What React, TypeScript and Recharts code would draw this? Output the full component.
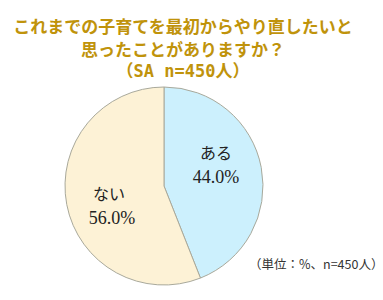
import { PieChart, Pie, Cell } from "recharts";

const categories = ["ある", "ない"];
const values = [44.0, 56.0];
const titleLines = ["これまでの子育てを最初からやり直したいと", "思ったことがありますか？"];
const titleSub = "（SA n=450人）";
const footnote = "（単位：%、n=450人）";

const colors = ["#ccf0fd", "#fdf2d6"];
// label offsets from pie centre, per slice
const labelOffsets = [
  { dx: 52, dy: -27 },
  { dx: -55, dy: 14 },
];

const data = categories.map((name, i) => ({ name, value: values[i] }));

function SliceLabel(props: any) {
  const { cx, cy, index, value, name } = props;
  const off = labelOffsets[index];
  const x = cx + off.dx;
  const y = cy + off.dy;
  return (
    <g>
      <text x={x} y={y} textAnchor="middle" fontSize={16} fill="#222" fontFamily="Noto Sans CJK JP">
        {name}
      </text>
      <text x={x + (index === 1 ? 3 : 0)} y={y + 24} textAnchor="middle" fontSize={18} fill="#222" fontFamily="Liberation Serif">
        {value.toFixed(1)}%
      </text>
    </g>
  );
}

export default function App() {
  return (
    <div style={{ position: "absolute", left: 0, top: 0, width: 383, height: 300, background: "#fff" }}>
      <div
        style={{
          position: "absolute",
          left: 0,
          top: 14,
          width: 366,
          textAlign: "center",
          color: "#c0930b",
          fontFamily: "'Noto Sans CJK JP', sans-serif",
          fontWeight: 700,
          fontSize: 17,
          lineHeight: "23px",
          whiteSpace: "nowrap",
        }}
      >
        {titleLines.map((t) => (
          <div key={t}>{t}</div>
        ))}
        <div style={{ fontFamily: "'DejaVu Sans Mono', 'Noto Sans CJK JP', monospace" }}>{titleSub}</div>
      </div>
      <PieChart width={383} height={300} margin={{ top: 0, right: 0, bottom: 0, left: 0 }}>
        <Pie
          data={data}
          dataKey="value"
          nameKey="name"
          cx={164}
          cy={186}
          outerRadius={99}
          startAngle={90}
          endAngle={-270}
          stroke="#a9a99b"
          strokeWidth={1}
          label={SliceLabel}
          labelLine={false}
          isAnimationActive={false}
        >
          {data.map((d, i) => (
            <Cell key={d.name} fill={colors[i]} />
          ))}
        </Pie>
      </PieChart>
      <div
        style={{
          position: "absolute",
          left: 249,
          top: 254,
          fontSize: 12.5,
          color: "#333",
          fontFamily: "'Noto Sans CJK JP', sans-serif",
          whiteSpace: "nowrap",
        }}
      >
        {footnote}
      </div>
    </div>
  );
}
